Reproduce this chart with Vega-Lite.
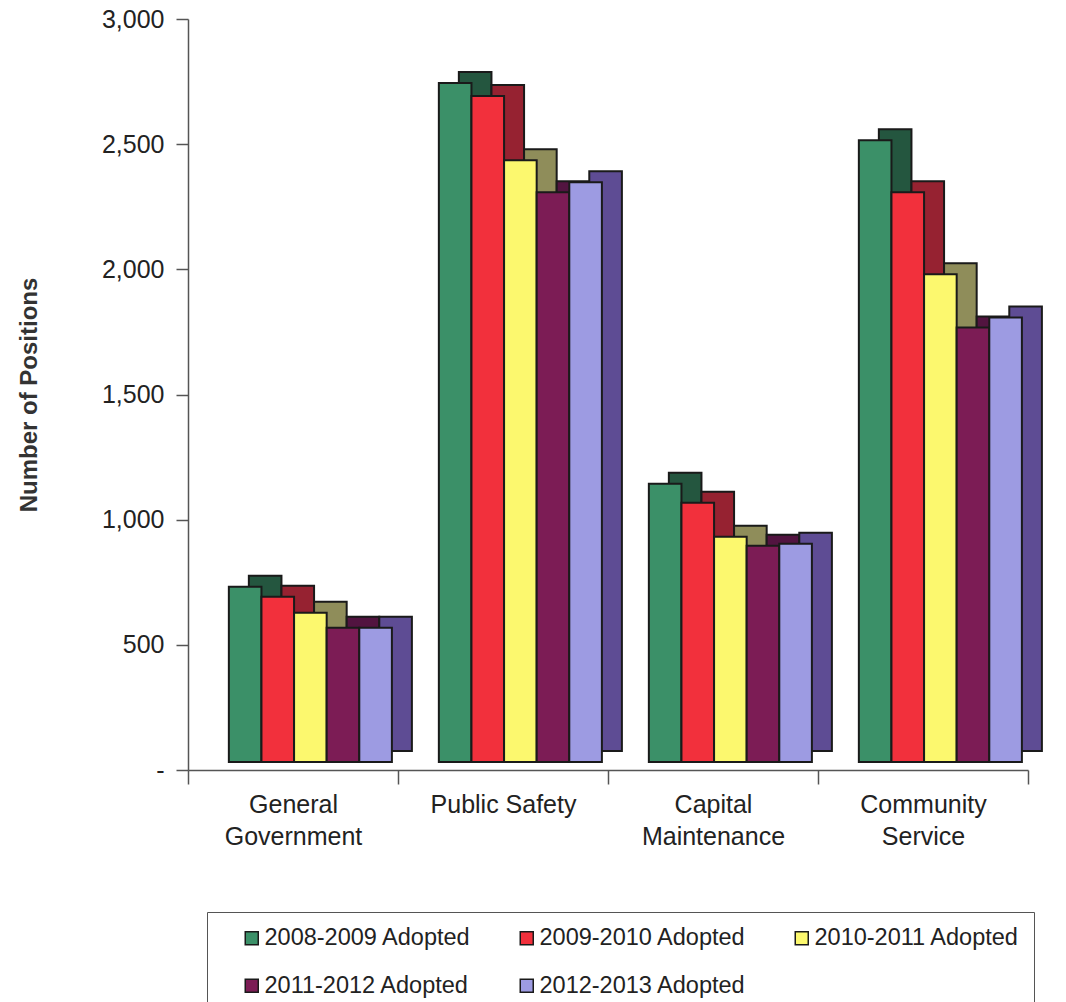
{
  "$schema": "https://vega.github.io/schema/vega-lite/v6.json",
  "width": 840,
  "height": 751,
  "autosize": {"type": "none"},
  "padding": {"left": 188, "top": 19, "right": 38, "bottom": 232},
  "background": "white",
  "config": {"view": {"stroke": null}, "font": "Liberation Sans"},
  "data": {"values": [
    {"dept": "General Government", "year": "2008-2009 Adopted", "positions": 700},
    {"dept": "General Government", "year": "2009-2010 Adopted", "positions": 660},
    {"dept": "General Government", "year": "2010-2011 Adopted", "positions": 596},
    {"dept": "General Government", "year": "2011-2012 Adopted", "positions": 536},
    {"dept": "General Government", "year": "2012-2013 Adopted", "positions": 536},
    {"dept": "Public Safety", "year": "2008-2009 Adopted", "positions": 2712},
    {"dept": "Public Safety", "year": "2009-2010 Adopted", "positions": 2660},
    {"dept": "Public Safety", "year": "2010-2011 Adopted", "positions": 2404},
    {"dept": "Public Safety", "year": "2011-2012 Adopted", "positions": 2276},
    {"dept": "Public Safety", "year": "2012-2013 Adopted", "positions": 2316},
    {"dept": "Capital Maintenance", "year": "2008-2009 Adopted", "positions": 1112},
    {"dept": "Capital Maintenance", "year": "2009-2010 Adopted", "positions": 1036},
    {"dept": "Capital Maintenance", "year": "2010-2011 Adopted", "positions": 900},
    {"dept": "Capital Maintenance", "year": "2011-2012 Adopted", "positions": 864},
    {"dept": "Capital Maintenance", "year": "2012-2013 Adopted", "positions": 872},
    {"dept": "Community Service", "year": "2008-2009 Adopted", "positions": 2484},
    {"dept": "Community Service", "year": "2009-2010 Adopted", "positions": 2276},
    {"dept": "Community Service", "year": "2010-2011 Adopted", "positions": 1948},
    {"dept": "Community Service", "year": "2011-2012 Adopted", "positions": 1736},
    {"dept": "Community Service", "year": "2012-2013 Adopted", "positions": 1776}
  ]},
  "encoding": {
    "xOffset": {
      "field": "year", "type": "nominal",
      "scale": {"paddingInner": 0, "paddingOuter": 0.72, "align": 0.87}
    },
    "y": {
      "field": "positions", "type": "quantitative",
      "scale": {"domain": [0, 3000]},
      "axis": {
        "values": [0, 500, 1000, 1500, 2000, 2500, 3000],
        "labelExpr": "datum.value == 0 ? '-' : format(datum.value, ',')",
        "title": "Number of Positions", "titleFontSize": 24, "titleFontWeight": "bold",
        "titleColor": "#333", "titlePadding": 60,
        "labelFontSize": 25, "labelColor": "#222", "tickSize": 12, "labelPadding": 12,
        "domainColor": "#555", "tickColor": "#555", "domainWidth": 1.5, "tickWidth": 1.5,
        "grid": false
      }
    }
  },
  "layer": [
    {
      "mark": {"type": "bar", "yOffset": -19, "y2Offset": -19, "stroke": "#1a1a1a", "strokeWidth": 2},
      "encoding": {
        "x": {
          "field": "dept", "type": "nominal",
          "sort": ["General Government", "Public Safety", "Capital Maintenance", "Community Service"],
          "scale": {"paddingInner": 0, "paddingOuter": 0, "range": [20, 860]},
          "axis": null
        },
        "color": {"field": "year", "type": "nominal",
          "scale": {"range": ["#24563f", "#962231", "#8f8d5a", "#521440", "#5e4c94"]},
          "legend": null}
      }
    },
    {
      "mark": {"type": "bar", "yOffset": -8, "y2Offset": -8, "stroke": "#1a1a1a", "strokeWidth": 2},
      "encoding": {
        "x": {
          "field": "dept", "type": "nominal",
          "sort": ["General Government", "Public Safety", "Capital Maintenance", "Community Service"],
          "scale": {"paddingInner": 0, "paddingOuter": 0},
          "axis": {
            "title": null, "labelAngle": 0, "labelFontSize": 25, "labelColor": "#222",
            "labelExpr": "datum.label == 'Public Safety' ? datum.label : split(datum.label, ' ')",
            "labelLineHeight": 32, "labelPadding": 8, "tickBand": "extent", "tickSize": 14,
            "domainColor": "#555", "tickColor": "#555", "domainWidth": 1.5, "tickWidth": 1.5
          }
        },
        "color": {"field": "year", "type": "nominal",
          "scale": {"range": ["#3b9068", "#f2303c", "#fcf86e", "#7c1c55", "#9d9be2"]},
          "legend": {
            "title": null, "orient": "none", "legendX": 19, "legendY": 893,
            "direction": "horizontal", "columns": 3, "columnPadding": 25, "rowPadding": 23,
            "padding": 14, "strokeColor": "#555", "symbolType": "square", "symbolSize": 169,
            "symbolStrokeColor": "#1a1a1a", "symbolStrokeWidth": 1.5, "symbolOffset": 19,
            "labelFontSize": 23.5, "labelColor": "#222", "labelOffset": 1, "labelLimit": 300
          }
        }
      }
    }
  ],
  "resolve": {"scale": {"x": "independent", "xOffset": "independent", "color": "independent"}}
}
